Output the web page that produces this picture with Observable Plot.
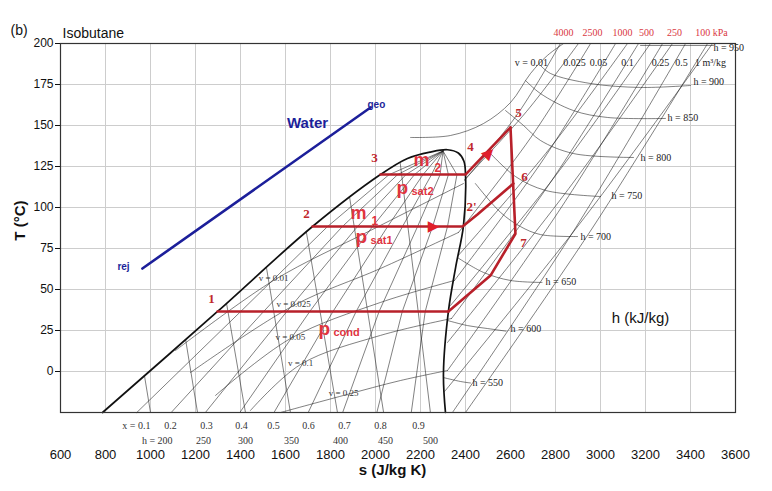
<!DOCTYPE html>
<html><head><meta charset="utf-8">
<script src="https://cdn.jsdelivr.net/npm/d3@7"></script>
<script src="https://cdn.jsdelivr.net/npm/@observablehq/plot@0.6"></script>
<style>body{margin:0;background:#fff;} #chart svg{display:block;}</style>
</head><body><div id="chart"></div>
<script>
// ---- axes ----
const sTicks = [600,800,1000,1200,1400,1600,1800,2000,2200,2400,2600,2800,3000,3200,3400,3600];
const tTicks = [0,25,50,75,100,125,150,175,200];

// ---- saturation dome [s, T] ----
const saturationDome = [[787,-25],[1298,36.6],[1720,88.4],[2022,120.1],[2142,129.9],[2244,133.8],[2320,135.2],[2368,133.2],[2393,128.2],[2400,120.1],[2391,89],[2356,63.4],[2324,36.6],[2302,-1.2],[2311,-25]];

// ---- quality lines (two-phase) ----
const qualityNames = ["0.1","0.2","0.3","0.4","0.5","0.6","0.7","0.8","0.9"];
const qualityLines = [
  [[939,-25],[1401,36.6],[1787,88.4],[2060,120],[2300,134.5]],
  [[1092,-25],[1503,36.6],[1853,88.4],[2098,120],[2300,134.5]],
  [[1244,-25],[1606,36.6],[1920,88.4],[2135,120],[2300,134.5]],
  [[1397,-25],[1708,36.6],[1987,88.4],[2173,120],[2300,134.5]],
  [[1549,-25],[1811,36.6],[2054,88.4],[2211,120],[2300,134.5]],
  [[1701,-25],[1914,36.6],[2120,88.4],[2249,120],[2300,134.5]],
  [[1854,-25],[2016,36.6],[2187,88.4],[2287,120],[2300,134.5]],
  [[2006,-25],[2119,36.6],[2254,88.4],[2324,120],[2300,134.5]],
  [[2159,-25],[2221,36.6],[2320,88.4],[2362,120],[2300,134.5]]
];

// ---- isenthalps ----
const hNames = ["200","250","300","350","400","450","500","550","600","650","700","750","800","850","900","950"];
const hLines = [
  [[973,-2.4],[1000,-25]],
  [[1156,19.5],[1209,-25]],
  [[1338,41.5],[1422,-25]],
  [[1516,62.8],[1622,-25]],
  [[1693,84.8],[1831,-25]],
  [[1885,106.1],[2036,-25]],
  [[2110,127],[2244,-25]],
  [[2302,-3.7],[2378,-6.1],[2422,-7]],
  [[2320,31.1],[2409,28],[2498,26.2],[2580,24.6]],
  [[2364,69.5],[2480,60.4],[2600,55.5],[2740,54.3]],
  [[2444,114.6],[2556,97],[2644,88.4],[2733,83.5],[2898,82.3]],
  [[2498,134.8],[2622,118.9],[2756,110.4],[3000,106.7]],
  [[2578,159.1],[2658,150],[2733,140.9],[2880,132.9],[3147,130.5]],
  [[2667,177.4],[2733,169.5],[2880,159.1],[3031,154.9],[3289,154.3]],
  [[2733,186.6],[2778,181.7],[2956,175.6],[3178,173.2],[3400,174.4]],
  [[3178,198.8],[3502,198.8]]
];

// ---- isochores (two-phase part, superheated part) ----
const vNames = ["0.01","0.025","0.05","0.1","0.25","0.5","1"];
const vLinesWet = [
  [[1111,12.8],[1547,55.5],[1978,86],[2391,114.6]],
  [[1178,-0.6],[1636,40.2],[2022,62.8],[2369,84.8]],
  [[1289,-14.6],[1622,20.1],[2022,42.1],[2351,55.5]],
  [[1444,-23.8],[1667,4.3],[2022,22],[2338,32.3]],
  [[1578,-25],[1858,-14.6],[2111,-5.5],[2320,0.6]]
];
const vLinesDry = [
  [[2396,116.5],[2636,157.9],[2822,200]],
  [[2369,84.8],[2689,142.4],[2956,200]],
  [[2351,55.5],[2738,127.7],[3067,200]],
  [[2338,32.3],[2782,116.2],[3169,200]],
  [[2320,0.6],[2827,100.3],[3276,200]],
  [[2342,-25],[2889,87.5],[3378,200]],
  [[2400,-25],[2964,87.5],[3476,200]]
];

// ---- isobars (kPa) ----
const pNames = ["4000","2500","1000","500","250","100"];
const pLines = [
  [[2156,142.7],[2333,143.9],[2480,151.2],[2600,164],[2689,181.7],[2764,192.7],[2836,200]],
  [[2396,117.1],[2671,158.5],[2902,200]],
  [[2364,70.1],[2769,135.1],[3120,200]],
  [[2333,40.2],[2804,120.1],[3222,200]],
  [[2320,17.7],[2844,108.8],[3320,200]],
  [[2307,-12.2],[2929,93.9],[3498,200]]
];

// ---- ORC cycle ----
const cycleNames = ["pcond","psat1","psat2","return"];
const cycleLines = [
  [[1298,36.6],[2324,36.6]],
  [[1720,88.4],[2387,88.4],[2453,95.7],[2613,114.6]],
  [[2022,120.1],[2400,120.1],[2600,148.8]],
  [[2600,148.8],[2622,84],[2511,58.5],[2324,36.6]]
];
const cycleArrows = [[2258,88.4,0],[2502,133.5,-45]];
const stateLabels = ["1","2","3","4","5","6","2'","7"];
const statePos = [[1271,44.5],[1693,96.3],[1996,130.5],[2422,137.2],[2636,157.9],[2662,118.9],[2427,100.6],[2658,78.7]];

// ---- water line ----
const water = [[964,62.8],[1978,161]];

// helpers
const rows = (names, lines) => lines.flatMap((pts, i) => pts.map(([s, T]) => ({s, T, id: names[i]})));
const thin = {x: "s", y: "T", z: "id", stroke: "#1a1a1a", strokeWidth: 0.65, strokeOpacity: 0.85};
const pt = (s, T, text) => ({s, T, text});
const serif = "Liberation Serif, Times New Roman, serif";
const sans = "Liberation Sans, Arial, sans-serif";

const hLabelPos = [[2431,-6.7],[2600,26.2],[2756,54.9],[2911,82.3],[3049,107.3],[3178,130.5],[3298,154.9],[3413,176.8],[3502,197.6]];
const hLabelTxt = ["h = 550","h = 600","h = 650","h = 700","h = 750","h = 800","h = 850","h = 900","h = 950"];
const vTopPos = [2693,2884,2991,3120,3267,3360,3489];
const vTopTxt = ["v = 0.01","0.025","0.05","0.1","0.25","0.5","1 m³/kg"];
const vWetPos = [[1547,56.7],[1636,40.8],[1622,20.7],[1667,4.9],[1858,-13.4]];
const vWetTxt = ["v = 0.01","v = 0.025","v = 0.05","v = 0.1","v = 0.25"];
const pTopPos = [2836,2964,3098,3204,3329,3493];
const pTopTxt = ["4000","2500","1000","500","250","100 kPa"];
const xBotPos = [1089,1249,1404,1547,1702,1862,2022,2191];
const xBotTxt = ["0.2","0.3","0.4","0.5","0.6","0.7","0.8","0.9"];
const hBotPos = [1236,1422,1627,1844,2044,2244];
const hBotTxt = ["250","300","350","400","450","500"];

const red = "#b8202a", pink = "#e0343f", blue = "#1c1f9a";

const chart = Plot.plot({
  width: 772, height: 491,
  marginTop: 43, marginRight: 37, marginBottom: 79, marginLeft: 60,
  style: {fontFamily: sans, fontSize: "12px", background: "#fff", color: "#111"},
  x: {domain: [600, 3600]},
  y: {domain: [-25, 200]},
  marks: [
    Plot.gridX(sTicks, {stroke: "#cdcdcd", strokeOpacity: 1}),
    Plot.gridY(tTicks, {stroke: "#cdcdcd", strokeOpacity: 1}),
    Plot.line(rows(qualityNames, qualityLines), thin),
    Plot.line(rows(hNames, hLines), {...thin, curve: "catmull-rom"}),
    Plot.line(rows(vNames, vLinesWet), {...thin, curve: "catmull-rom"}),
    Plot.line(rows(vNames, vLinesDry), {...thin, curve: "catmull-rom"}),
    Plot.line(rows(pNames, pLines), {...thin, curve: "catmull-rom"}),
    Plot.line(saturationDome, {x: d => d[0], y: d => d[1], stroke: "#111", strokeWidth: 1.7, curve: "catmull-rom"}),
    Plot.line(water, {x: d => d[0], y: d => d[1], stroke: blue, strokeWidth: 2.6}),
    Plot.line(rows(cycleNames, cycleLines), {x: "s", y: "T", z: "id", stroke: red, strokeWidth: 2.6, strokeLinejoin: "miter"}),
    Plot.text(cycleArrows, {x: d => d[0], y: d => d[1], rotate: d => d[2], text: () => "▶", fill: "#e0202a", fontSize: 15, fontFamily: "DejaVu Sans"}),
    Plot.text(statePos, {x: d => d[0], y: d => d[1], text: (d, i) => stateLabels[i], fill: "#c0282d", fontSize: 13, fontFamily: serif, fontWeight: "bold"}),
    // m and p labels
    Plot.text([pt(1889,96.3,"m"), pt(2169,128.7,"m")], {x: "s", y: "T", text: "text", textAnchor: "start", fill: pink, fontSize: 18, fontWeight: "bold"}),
    Plot.text([pt(1982,91.5,"1"), pt(2262,123.8,"2")], {x: "s", y: "T", text: "text", textAnchor: "start", fill: pink, fontSize: 12, fontWeight: "bold"}),
    Plot.text([pt(1911,82.3,"p"), pt(2093,112.2,"p"), pt(1747,26.2,"p")], {x: "s", y: "T", text: "text", textAnchor: "start", fill: pink, fontSize: 19, fontWeight: "bold"}),
    Plot.text([pt(1978,79.9,"sat1"), pt(2160,109.8,"sat2"), pt(1813,23.8,"cond")], {x: "s", y: "T", text: "text", textAnchor: "start", fill: pink, fontSize: 11, fontWeight: "bold"}),
    // water labels
    Plot.text([pt(1698,151.2,"Water")], {x: "s", y: "T", text: "text", fill: blue, fontSize: 15, fontWeight: "bold"}),
    Plot.text([pt(2004,162.8,"geo"), pt(880,64,"rej")], {x: "s", y: "T", text: "text", textAnchor: (d) => d.text === "geo" ? "start" : "middle", fill: blue, fontSize: 10, fontWeight: "bold"}),
    // property line labels
    Plot.text(hLabelPos, {x: d => d[0], y: d => d[1], text: (d, i) => hLabelTxt[i], textAnchor: "start", fontFamily: serif, fontSize: 10, fill: "#222"}),
    Plot.text(vTopPos, {x: d => d, y: () => 188.4, text: (d, i) => vTopTxt[i], fontFamily: serif, fontSize: 10, fill: "#222"}),
    Plot.text(vWetPos, {x: d => d[0], y: d => d[1], text: (d, i) => vWetTxt[i], fontFamily: serif, fontSize: 9, fill: "#333"}),
    Plot.text(pTopPos, {x: d => d, y: () => 206.7, text: (d, i) => pTopTxt[i], fontFamily: serif, fontSize: 10, fill: "#d9383f"}),
    Plot.text([pt(1000,-32.9,"x = 0.1")], {x: "s", y: "T", text: "text", textAnchor: "end", fontFamily: serif, fontSize: 10, fill: "#333"}),
    Plot.text(xBotPos, {x: d => d, y: () => -32.9, text: (d, i) => xBotTxt[i], fontFamily: serif, fontSize: 10, fill: "#333"}),
    Plot.text([pt(1098,-42,"h = 200")], {x: "s", y: "T", text: "text", textAnchor: "end", fontFamily: serif, fontSize: 10, fill: "#333"}),
    Plot.text(hBotPos, {x: d => d, y: () => -42, text: (d, i) => hBotTxt[i], fontFamily: serif, fontSize: 10, fill: "#333"}),
    Plot.text([pt(3178,32.3,"h (kJ/kg)")], {x: "s", y: "T", text: "text", fontSize: 15, fill: "#111"}),
    // titles & axis labels
    Plot.text([pt(378,207.9,"(b)")], {x: "s", y: "T", text: "text", textAnchor: "start", fontSize: 14, fill: "#111"}),
    Plot.text([pt(609,206.1,"Isobutane")], {x: "s", y: "T", text: "text", textAnchor: "start", fontSize: 14, fill: "#111"}),
    Plot.text([pt(2076,-60.4,"s (J/kg K)")], {x: "s", y: "T", text: "text", fontSize: 15, fontWeight: "bold", fill: "#111"}),
    Plot.text([pt(422,92,"T (°C)")], {x: "s", y: "T", text: "text", rotate: -90, fontSize: 15, fontWeight: "bold", fill: "#111"}),
    Plot.frame({stroke: "#333", strokeWidth: 1.2}),
    Plot.axisX(sTicks, {tickSize: 0, tickPadding: 37, fontSize: 13, label: null, tickFormat: d => String(d)}),
    Plot.axisY(tTicks, {tickSize: 5, tickPadding: 2, fontSize: 12, label: null, tickFormat: d => String(d)})
  ]
});
document.getElementById("chart").append(chart);
</script>
</body></html>
